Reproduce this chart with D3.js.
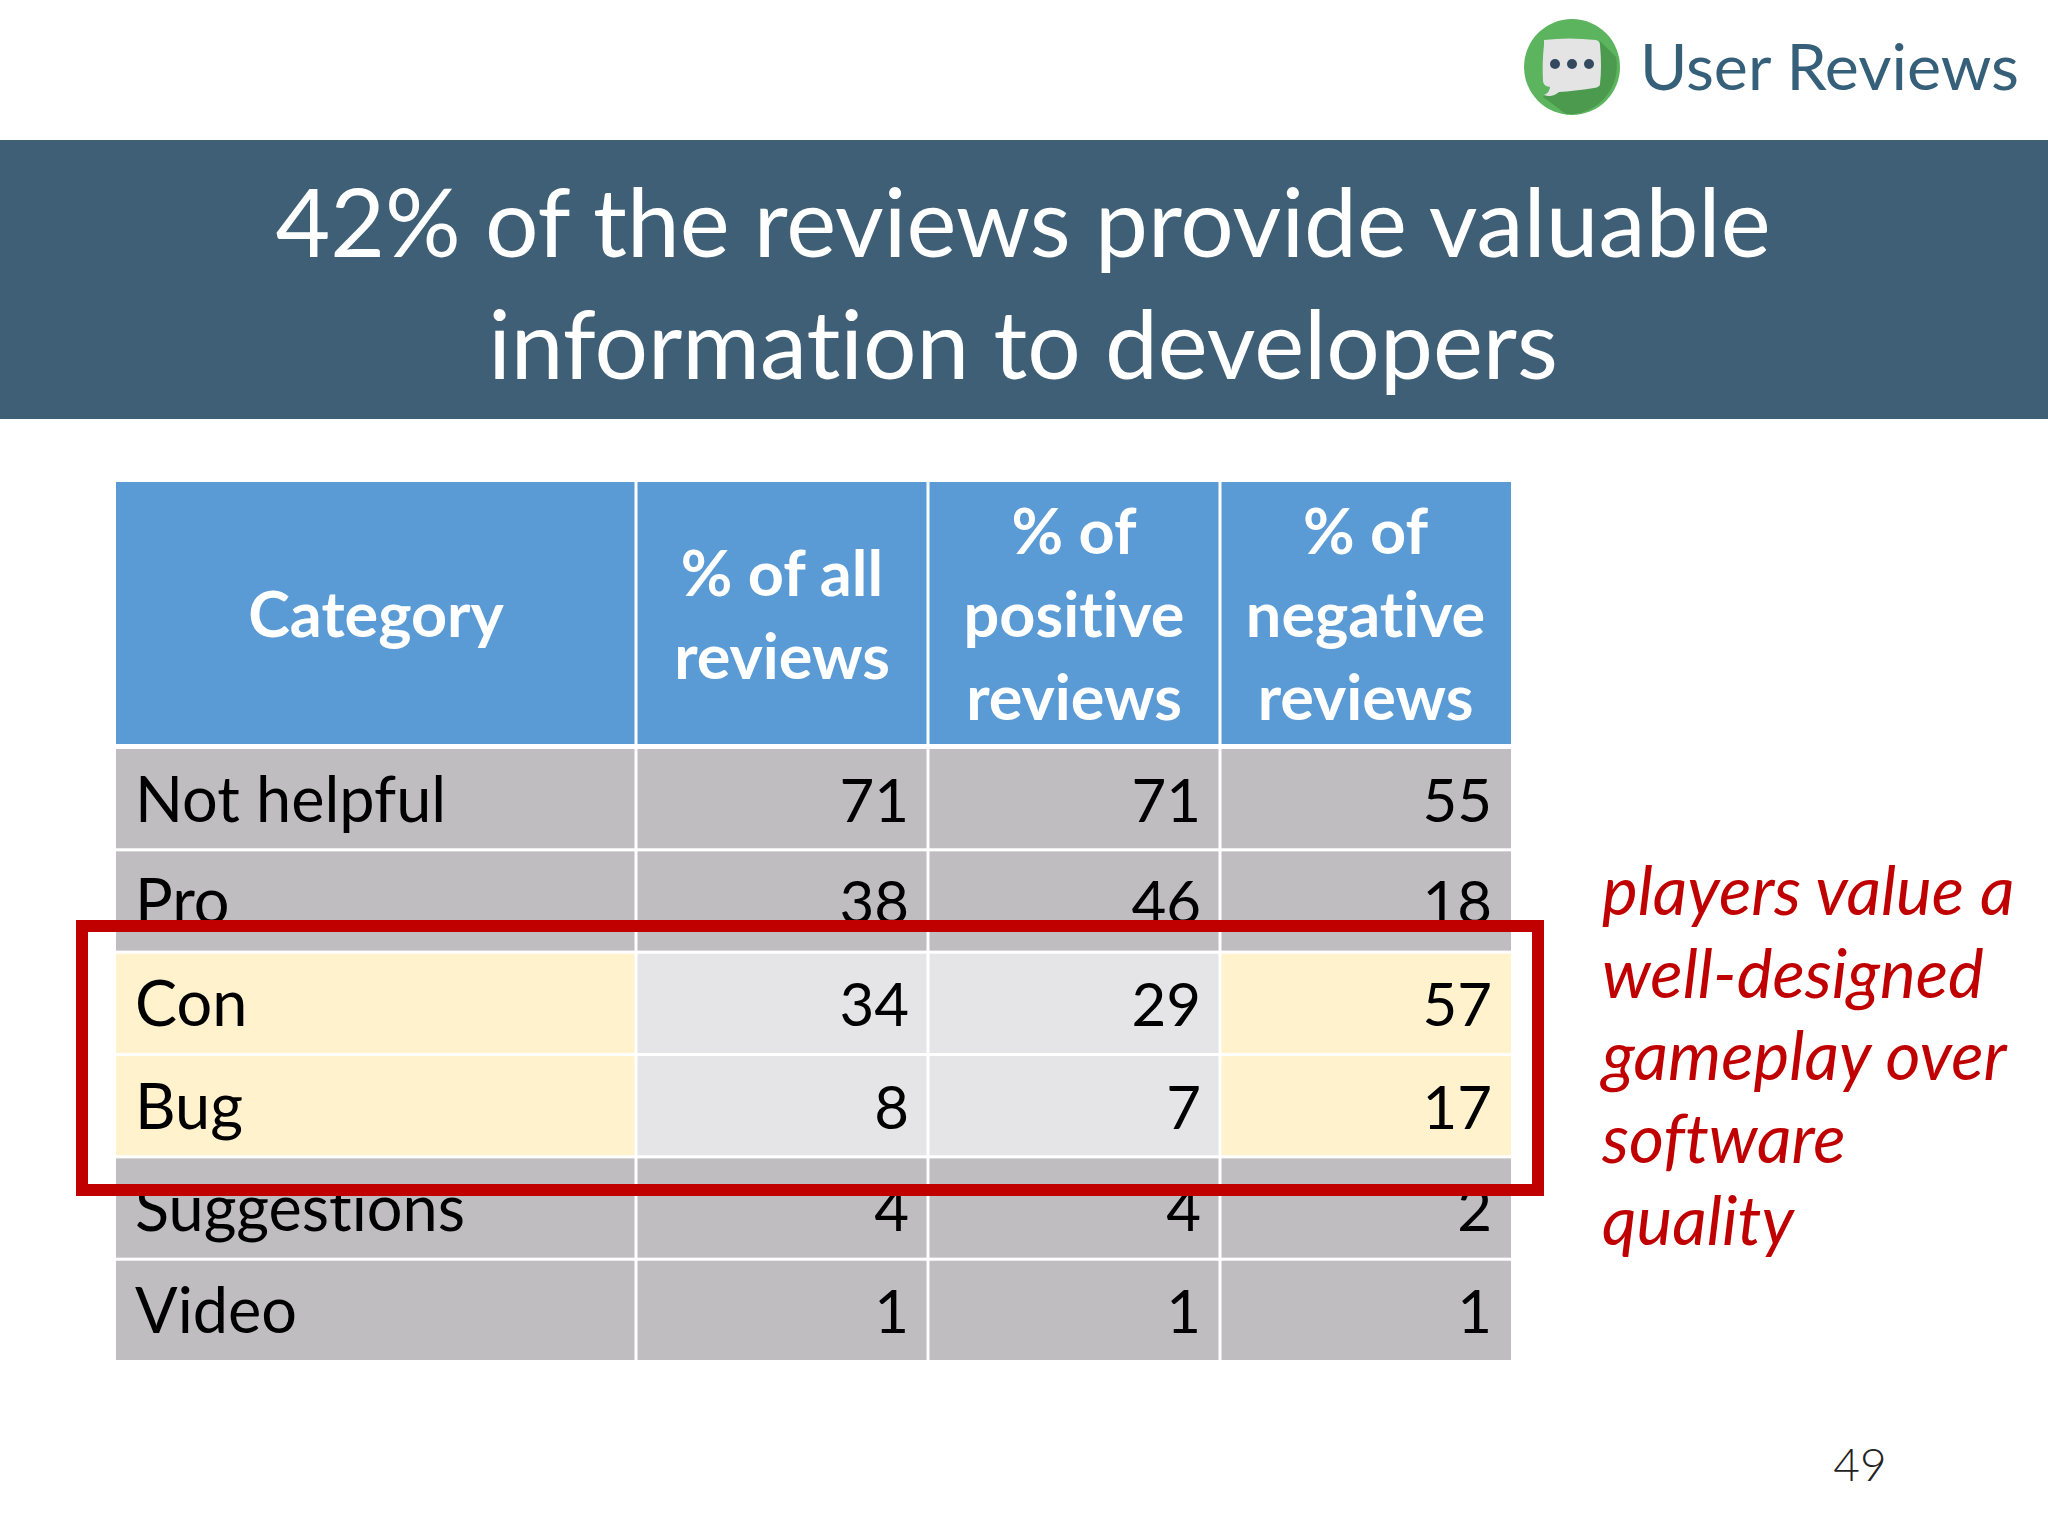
<!DOCTYPE html>
<html>
<head>
<meta charset="utf-8">
<script src="https://cdnjs.cloudflare.com/ajax/libs/d3/7.8.5/d3.min.js"></script>
<style>
  html, body { margin: 0; padding: 0; background: #fff; }
  svg { display: block; }
  text { font-family: Lato, "Open Sans", sans-serif; font-variant-ligatures: none; }
</style>
</head>
<body>
<div id="slide"></div>
<script>
// Data
const brandLabel = "User Reviews";
const titleLines = ["42% of the reviews provide valuable", "information to developers"];
const headers = [
  ["Category"],
  ["% of all", "reviews"],
  ["% of", "positive", "reviews"],
  ["% of", "negative", "reviews"]
];
const categories = ["Not helpful", "Pro", "Con", "Bug", "Suggestions", "Video"];
const allReviews = [71, 38, 34, 8, 4, 1];
const positiveReviews = [71, 46, 29, 7, 4, 1];
const negativeReviews = [55, 18, 57, 17, 2, 1];
const highlighted = ["Con", "Bug"];
const noteLines = ["players value a", "well-designed", "gameplay over", "software", "quality"];
const pageNumber = "49";

const valueColumns = [allReviews, positiveReviews, negativeReviews];

// Dimensions
const width = 2048;
const height = 1536;
const blue = "#3e5f76";
const red = "#c00000";

const svg = d3.select("#slide")
  .append("svg")
    .attr("width", width)
    .attr("height", height)
    .attr("viewBox", `0 0 ${width} ${height}`);

// Scales
const colScale = d3.scaleLinear()
  .domain([0, 1, 2, 3, 4])
  .range([116, 636, 928, 1220, 1511]);
const rowScale = d3.scaleBand()
  .domain(categories)
  .range([749, 1360])
  .paddingInner(0.03);

// Logo
const logo = svg.append("g")
  .attr("transform", "translate(1572, 67)");
logo.append("circle")
  .attr("r", 48)
  .attr("fill", "#5cb45e");
logo.append("path")
  .attr("d", "M-29,30 L28,-26 L44,-10 A48,48 0 0 1 -6,47 Z")
  .attr("fill", "#4b9a4e");
logo.append("path")
  .attr("d", "M-28,-27 Q-4,-30 24,-27 Q28,-26 28,-22 Q30,0 28,17 Q28,20 22,21 Q2,24 -13,25 Q-20,31 -28,28 Q-22,25 -22,20 Q-29,19 -29,14 Q-30,-5 -28,-22 Q-28,-26 -28,-27 Z")
  .attr("fill", "#e4e4e4");
logo.selectAll(".dot")
  .data([-17, 0, 17])
  .join("circle")
    .attr("class", "dot")
    .attr("cx", d => d)
    .attr("cy", -3)
    .attr("r", 5)
    .attr("fill", "#34495e");

svg.append("text")
  .attr("x", 1640)
  .attr("y", 90)
  .attr("font-size", 64.5)
  .attr("fill", "#36607a")
  .text(brandLabel);

// Title band
svg.append("rect")
  .attr("x", 0)
  .attr("y", 140)
  .attr("width", width)
  .attr("height", 279)
  .attr("fill", blue);
svg.selectAll(".title")
  .data(titleLines)
  .join("text")
    .attr("class", "title")
    .attr("x", 1023)
    .attr("y", (d, i) => 257 + i * 122)
    .attr("text-anchor", "middle")
    .attr("font-size", 94.5)
    .attr("fill", "#fff")
    .text(d => d);

// Header row
const header = svg.append("g")
  .selectAll("g")
  .data(headers)
  .join("g");
header.append("rect")
  .attr("x", (d, i) => colScale(i) + (i ? 1.5 : 0))
  .attr("y", 482)
  .attr("width", (d, i) => colScale(i + 1) - colScale(i) - (i ? 1.5 : 0) - (i < 3 ? 1.5 : 0))
  .attr("height", 262)
  .attr("fill", "#5b9bd5");
header.selectAll("text")
  .data((d, i) => d.map((line, j) => ({ line, j, n: d.length, col: i })))
  .join("text")
    .attr("x", d => (colScale(d.col) + colScale(d.col + 1)) / 2)
    .attr("y", d => 637 + (d.j - (d.n - 1) / 2) * 83)
    .attr("text-anchor", "middle")
    .attr("font-size", 63)
    .attr("font-weight", 700)
    .attr("fill", "#fff")
    .text(d => d.line);

// Body cells
const cellColor = (category, col) => {
  if (!highlighted.includes(category)) return "#bfbdc0";
  return col === 0 || col === 3 ? "#fff2cc" : "#e5e5e7";
};
const rows = svg.append("g")
  .selectAll("g")
  .data(categories)
  .join("g");
[0, 1, 2, 3].forEach(col => {
  rows.append("rect")
    .attr("x", colScale(col) + (col ? 1.5 : 0))
    .attr("y", d => rowScale(d))
    .attr("width", colScale(col + 1) - colScale(col) - (col ? 1.5 : 0) - (col < 3 ? 1.5 : 0))
    .attr("height", rowScale.bandwidth())
    .attr("fill", d => cellColor(d, col));
});
rows.append("text")
  .attr("x", 135)
  .attr("y", d => rowScale(d) + 72.5)
  .attr("font-size", 63)
  .attr("fill", "#000")
  .text(d => d);
valueColumns.forEach((values, col) => {
  rows.append("text")
    .attr("x", colScale(col + 2) - 19)
    .attr("y", d => rowScale(d) + 72.5)
    .attr("text-anchor", "end")
    .attr("font-size", 60)
    .attr("fill", "#000")
    .text((d, i) => values[i]);
});

// Highlight box
svg.append("rect")
  .attr("x", 82)
  .attr("y", 926)
  .attr("width", 1456)
  .attr("height", 264)
  .attr("fill", "none")
  .attr("stroke", red)
  .attr("stroke-width", 12);

// Side note
svg.selectAll(".note")
  .data(noteLines)
  .join("text")
    .attr("class", "note")
    .attr("x", 1602)
    .attr("y", (d, i) => 915 + i * 82.5)
    .attr("font-size", 67.5)
    .attr("font-style", "italic")
    .attr("fill", red)
    .text(d => d);

// Page number
svg.append("text")
  .attr("x", 1860)
  .attr("y", 1481)
  .attr("text-anchor", "middle")
  .attr("font-size", 46)
  .attr("font-weight", 300)
  .attr("fill", "#222")
  .text(pageNumber);
</script>
</body>
</html>
